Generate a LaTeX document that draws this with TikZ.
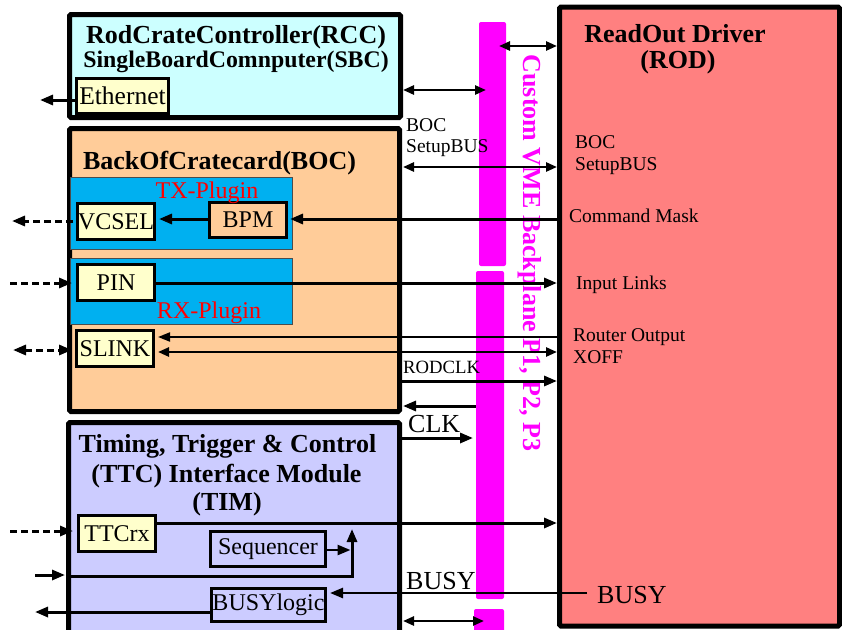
\documentclass[tikz,border=0pt]{standalone}
\usepackage{fontspec}
\setmainfont{Liberation Serif}
\usetikzlibrary{arrows.meta}
\definecolor{rccfill}{HTML}{CCFFFF}
\definecolor{bocfill}{HTML}{FFCC99}
\definecolor{plugfill}{HTML}{00B0F0}
\definecolor{timfill}{HTML}{CCCCFF}
\definecolor{rodfill}{HTML}{FF8080}
\definecolor{chipfill}{HTML}{FFFFCC}
\definecolor{bpmag}{HTML}{FF00FF}
\newcommand\fsz[1]{\fontsize{#1pt}{#1pt}\selectfont}
\begin{document}
\begin{tikzpicture}[x=1pt,y=-1pt,
  bigbox/.style={draw, line width=5pt, rounded corners=1.5pt, inner sep=0pt},
  chip/.style={draw, line width=3pt, fill=chipfill, inner sep=0pt, minimum width=77pt, minimum height=36pt, font=\fsz{24}},
  plug/.style={draw=black!70, line width=0.8pt, fill=plugfill},
  bar/.style={fill=bpmag, rounded corners=2pt},
  title/.style={anchor=base, inner sep=0pt, font=\fsz{26}\bfseries},
  lab/.style={anchor=base west, inner sep=0pt, font=\fsz{19.5}},
  biglab/.style={anchor=base west, inner sep=0pt, font=\fsz{26}},
  redlab/.style={anchor=base, inner sep=0pt, font=\fsz{24}, text=red},
  arr/.style={line width=3pt, -{Triangle[length=13pt,width=10pt]}},
  thinarr/.style={line width=2pt, -{Triangle[length=12pt,width=9pt]}},
  darr/.style={line width=2.5pt, {Triangle[length=11pt,width=9pt]}-{Triangle[length=11pt,width=9pt]}},
  dasharr/.style={line width=3pt, dash pattern=on 7pt off 4pt, -{Triangle[length=13pt,width=10pt]}},
  dashdarr/.style={line width=3pt, dash pattern=on 7pt off 4pt, {Triangle[length=13pt,width=10pt]}-{Triangle[length=13pt,width=10pt]}}
]
\useasboundingbox (0,0) rectangle (842,629);
\clip (0,0) rectangle (842,629);

% big boxes
\node[bigbox, fill=rccfill, minimum width=331pt, minimum height=103pt] (rcc) at (235,66) {};
\node[bigbox, fill=bocfill, minimum width=330pt, minimum height=283pt] (boc) at (234.5,270) {};
\node[bigbox, fill=timfill, minimum width=331pt, minimum height=217pt] (tim) at (234,531) {};
\node[bigbox, fill=rodfill, minimum width=280pt, minimum height=619pt] (rod) at (699.5,316.5) {};

% plugins
\node[plug, minimum width=222pt, minimum height=72pt, inner sep=0pt] (txp) at (181,213) {};
\node[plug, minimum width=222pt, minimum height=66pt, inner sep=0pt] (rxp) at (181,291) {};

% backplane bars
\fill[bar] (479,22) rectangle (506,266);
\fill[bar] (476,271) rectangle (504,599);
\fill[bar] (474,609) rectangle (504,640);

% chips
\node[chip, font=\fsz{25.5}, minimum width=92pt, minimum height=35pt] (eth) at (122.5,96) {Ethernet};
\node[chip] (vcsel) at (116,221.5) {VCSEL};
\node[chip, fill=bocfill, minimum height=35pt] (bpm) at (248,220) {BPM};
\node[chip] (pin) at (116,282.5) {PIN};
\node[chip] (slink) at (115,348.5) {SLINK};
\node[chip] (ttcrx) at (117,533.5) {TTCrx};
\node[chip, fill=timfill, minimum width=115pt, minimum height=35pt] (seq) at (268,549) {Sequencer};
\node[chip, fill=timfill, minimum width=114pt, minimum height=33pt] (busy) at (268.5,605) {BUSYlogic};

% titles
\node[title] (t1) at (236,43) {RodCrateController(RCC)};
\node[title, font=\fsz{23.8}\bfseries] (t2) at (236,67) {SingleBoardComnputer(SBC)};
\node[title] (t3) at (219.5,169) {BackOfCratecard(BOC)};
\node[title] (t4) at (675,42) {ReadOut Driver};
\node[title] (t5) at (678,68) {(ROD)};
\node[title] (t6) at (227.5,452) {Timing, Trigger \& Control};
\node[title] (t7) at (226.5,482) {(TTC) Interface Module};
\node[title] (t8) at (227,510) {(TIM)};
\node[redlab] (tx) at (207,198) {TX-Plugin};
\node[redlab] (rx) at (209,318) {RX-Plugin};
\node[anchor=base, inner sep=0pt, rotate=-90, font=\fsz{26}\bfseries, text=bpmag] (vme) at (523,253) {Custom VME Backplane P1, P2, P3};

% labels
\node[lab] (l1) at (406,131) {BOC};
\node[lab] (l2) at (406,152) {SetupBUS};
\node[lab] (l3) at (575,148) {BOC};
\node[lab] (l4) at (575,170) {SetupBUS};
\node[lab] (l5) at (569,222) {Command Mask};
\node[lab] (l6) at (576,289) {Input Links};
\node[lab] (l7) at (573,341) {Router Output};
\node[lab] (l8) at (573,363) {XOFF};
\node[lab, font=\fsz{18.7}] (l9) at (403,373) {RODCLK};
\node[biglab] (l10) at (408,432) {CLK};
\node[biglab] (l11) at (406,589) {BUSY};
\node[biglab] (l12) at (597,603) {BUSY};

% coordinates
\coordinate (rodL) at (557,0);
\coordinate (bocR) at (403,0);
\coordinate (bpTop) at (499,46);
\coordinate (bpRcc) at (486,90);
\coordinate (bpClkA) at (476,406);
\coordinate (bpClkB) at (473,438);
\coordinate (bpBot) at (484,621);
\coordinate (ethOut) at (40,100);
\coordinate (vcselOut) at (12,221);
\coordinate (pinIn) at (10,283);
\coordinate (slinkOut) at (13,350);
\coordinate (ttcIn) at (10,531);
\coordinate (extA) at (35,575);
\coordinate (extB) at (65,575);
\coordinate (join) at (352,576);
\coordinate (joinTop) at (352,529);
\coordinate (busyOut) at (35,612);
\coordinate (busyIn) at (587,593);

% connectors
\draw[darr] (bpTop) -- (rodL |- bpTop);
\draw[darr] (bocR |- bpRcc) -- (bpRcc);
\draw[darr] (bocR |- 0,167) -- (rodL |- 0,167);
\draw[arr, shorten >=2pt] (rodL |- 0,219) -- (bpm.east |- 0,219);
\draw[arr, shorten >=3pt] (bpm.west |- 0,219) -- (vcsel.east |- 0,219);
\draw[dasharr, shorten <=3pt] (vcsel.west |- vcselOut) -- (vcselOut);
\draw[dasharr, shorten >=4pt] (pinIn) -- (pin.west |- pinIn);
\draw[arr] (pin.east |- 0,283) -- (rodL |- 0,283);
\draw[thinarr, shorten >=3pt] (rodL |- 0,337) -- (slink.east |- 0,337);
\draw[darr, shorten <=3pt] (slink.east |- 0,352) -- (rodL |- 0,352);
\draw[dashdarr, shorten >=3pt] (slinkOut) -- (slink.west |- slinkOut);
\draw[arr] (boc.east |- 0,381) -- (rodL |- 0,381);
\draw[arr] (bpClkA) -- (bocR |- bpClkA);
\draw[arr] (tim.east |- bpClkB) -- (bpClkB);
\draw[arr] (ttcrx.east |- 0,523) -- (rodL |- 0,523);
\draw[dasharr, shorten >=4pt] (ttcIn) -- (ttcrx.west |- ttcIn);
\draw[arr, line width=2.5pt, shorten >=1.5pt] (seq.east |- 0,550) -- (join |- 0,550);
\draw[arr] (tim.west |- join) -- (join) -- (joinTop);
\draw[arr] (extA) -- (extB);
\draw[arr, line width=2.5pt, shorten >=3pt] (busyIn) -- (busy.east |- busyIn);
\draw[arr] (busy.west |- busyOut) -- (busyOut);
\draw[darr] (bocR |- bpBot) -- (bpBot);
\draw[arr] (eth.west |- ethOut) -- (ethOut);
\end{tikzpicture}
\end{document}
